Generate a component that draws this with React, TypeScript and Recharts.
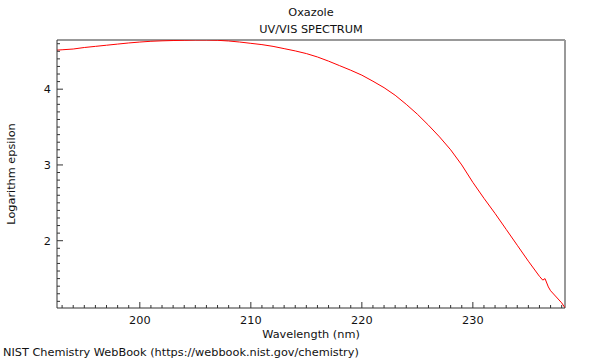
import React from 'react';
import { LineChart, Line, XAxis, YAxis, ReferenceLine, Label } from 'recharts';

// wavelength (nm) and log epsilon
const wavelength = [
  192.5, 193, 194, 195, 196, 197, 198, 199, 200, 201, 202, 203, 204, 205, 206, 207, 208, 209,
  210, 211, 212, 213, 214, 215, 216, 217, 218, 219, 220, 221, 222, 223, 224, 225, 226, 227,
  228, 229, 230, 231, 232, 233, 234, 235, 236, 236.3, 236.5, 236.8, 237, 238, 238.3,
];
const logEpsilon = [
  4.515, 4.52, 4.53, 4.55, 4.565, 4.58, 4.595, 4.61, 4.622, 4.632, 4.638, 4.642, 4.645, 4.648,
  4.648, 4.645, 4.636, 4.622, 4.605, 4.588, 4.565, 4.535, 4.505, 4.47, 4.425, 4.37, 4.31,
  4.25, 4.185, 4.105, 4.02, 3.92, 3.8, 3.67, 3.525, 3.37, 3.2, 3.0, 2.77, 2.56, 2.36, 2.15,
  1.94, 1.73, 1.53, 1.48, 1.5, 1.39, 1.34, 1.18, 1.115,
];

const xMajorTicks = [200, 210, 220, 230];
const xMinorTicks = [
  193, 194, 195, 196, 197, 198, 199, 200, 201, 202, 203, 204, 205, 206, 207, 208, 209, 210,
  211, 212, 213, 214, 215, 216, 217, 218, 219, 220, 221, 222, 223, 224, 225, 226, 227, 228,
  229, 230, 231, 232, 233, 234, 235, 236, 237, 238,
];
const yMajorTicks = [2, 3, 4];
const yMinorTicks = [
  1.2, 1.3, 1.4, 1.5, 1.6, 1.7, 1.8, 1.9, 2, 2.1, 2.2, 2.3, 2.4, 2.5, 2.6, 2.7, 2.8, 2.9, 3,
  3.1, 3.2, 3.3, 3.4, 3.5, 3.6, 3.7, 3.8, 3.9, 4, 4.1, 4.2, 4.3, 4.4, 4.5, 4.6,
];

const xDomain = [192.54, 238.3];
const yDomain = [1.112, 4.649];

const data = wavelength.map((w, i) => ({ w, e: logEpsilon[i] }));

const FONT = '"DejaVu Sans", sans-serif';
const FS = 11.3;

const XTick = (props: any) => {
  const { x, y, payload } = props;
  const major = xMajorTicks.includes(payload.value);
  return (
    <g>
      <line x1={x} x2={x} y1={y} y2={y - (major ? 6 : 3)} stroke="#333" />
      {major && (
        <text x={x} y={y + 16} textAnchor="middle" fontSize={FS} fontFamily={FONT} fill="#111">
          {payload.value}
        </text>
      )}
    </g>
  );
};

const YTick = (props: any) => {
  const { x, y, payload } = props;
  const major = yMajorTicks.includes(payload.value);
  return (
    <g>
      <line x1={x} x2={x + (major ? 6 : 3)} y1={y} y2={y} stroke="#333" />
      {major && (
        <text x={x - 6} y={y + 4} textAnchor="end" fontSize={FS} fontFamily={FONT} fill="#111">
          {payload.value}
        </text>
      )}
    </g>
  );
};

const App: React.FC = () => {
  return (
    <div style={{ position: 'absolute', left: 0, top: 0, width: 600, height: 360, background: '#fff', fontFamily: FONT }}>
      <div style={{ position: 'absolute', left: 0, width: 622, top: 5, textAlign: 'center', fontSize: FS, lineHeight: '16px', color: '#111' }}>
        Oxazole
      </div>
      <div style={{ position: 'absolute', left: 0, width: 622, top: 22, textAlign: 'center', fontSize: FS, lineHeight: '16px', color: '#111' }}>
        UV/VIS SPECTRUM
      </div>
      <LineChart
        width={600}
        height={360}
        data={data}
        margin={{ top: 40, right: 35, left: 7, bottom: 20 }}
      >
        <XAxis
          dataKey="w"
          type="number"
          domain={xDomain}
          allowDataOverflow
          ticks={xMinorTicks}
          interval={0}
          tickSize={0}
          tickMargin={0}
          tickLine={false}
          tick={<XTick />}
          height={32}
          stroke="#333"
        >
          <Label
            value="Wavelength (nm)"
            position="insideBottom"
            offset={2}
            style={{ fontSize: FS, fontFamily: FONT, fill: '#111' }}
          />
        </XAxis>
        <YAxis
          type="number"
          domain={yDomain}
          allowDataOverflow
          ticks={yMinorTicks}
          interval={0}
          tickSize={0}
          tickMargin={0}
          tickLine={false}
          tick={<YTick />}
          width={50}
          stroke="#333"
        >
          <Label
            value="Logarithm epsilon"
            angle={-90}
            position="insideLeft"
            offset={4}
            style={{ fontSize: FS, fontFamily: FONT, fill: '#111', textAnchor: 'middle' }}
          />
        </YAxis>
        <ReferenceLine y={yDomain[1]} stroke="#999" strokeWidth={2} ifOverflow="extendDomain" />
        <ReferenceLine x={xDomain[1]} stroke="#999" strokeWidth={2} ifOverflow="extendDomain" />
        <Line
          type="linear"
          dataKey="e"
          stroke="#ff0000"
          strokeWidth={1}
          dot={false}
          isAnimationActive={false}
        />
      </LineChart>
      <div style={{ position: 'absolute', left: 3, top: 345, fontSize: FS, lineHeight: '16px', color: '#111', whiteSpace: 'nowrap' }}>
        NIST Chemistry WebBook (https://webbook.nist.gov/chemistry)
      </div>
    </div>
  );
};

export default App;
